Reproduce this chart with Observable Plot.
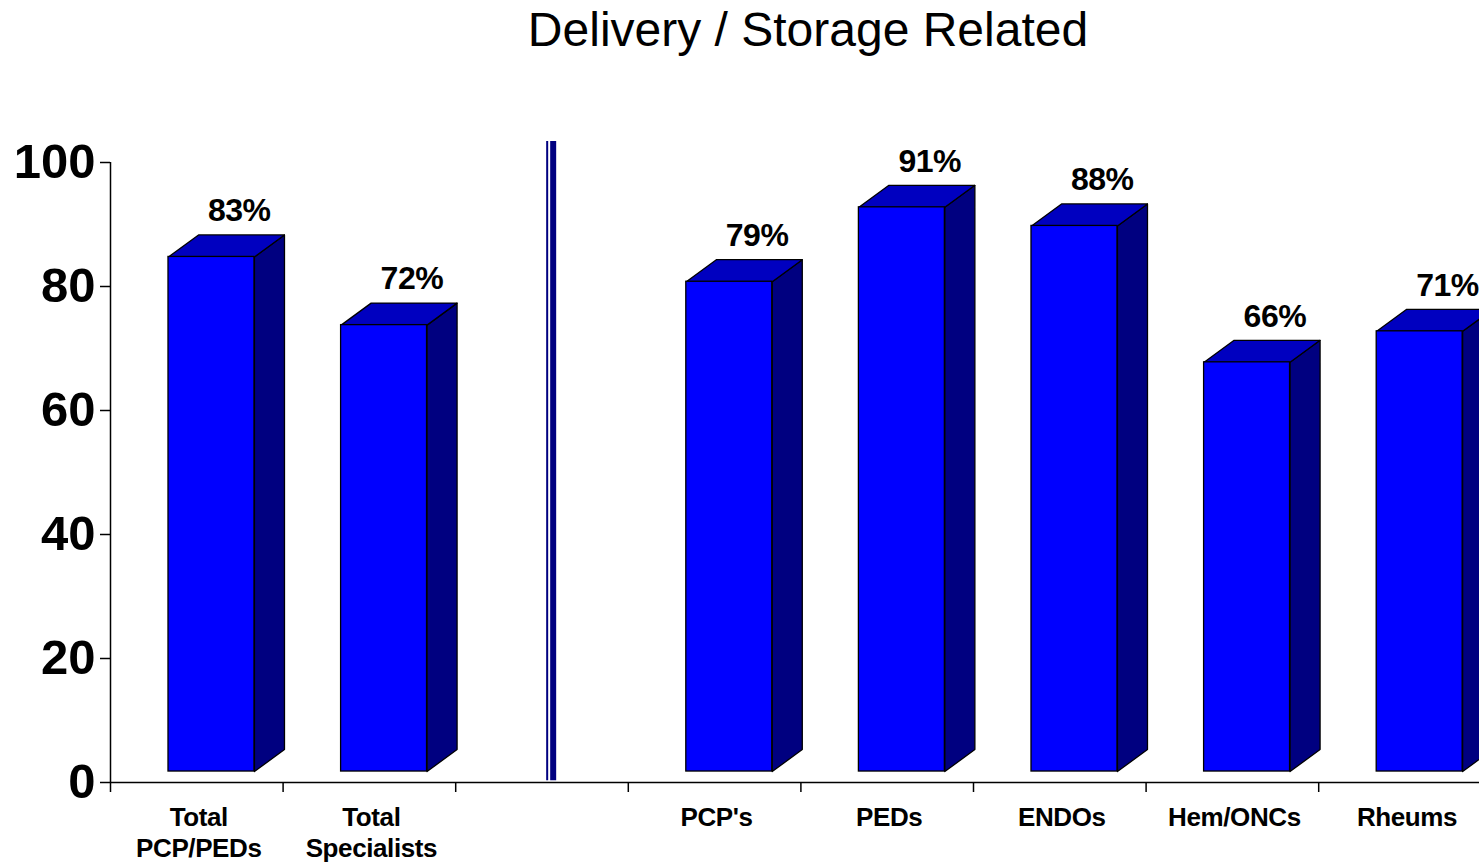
<!DOCTYPE html>
<html>
<head>
<meta charset="utf-8">
<script src="https://cdn.jsdelivr.net/npm/d3@7"></script>
<script src="https://cdn.jsdelivr.net/npm/@observablehq/plot@0.6"></script>
<style>
  html, body { margin: 0; padding: 0; background: #fff; overflow: hidden; }
  #title {
    box-sizing: border-box;
    width: 1479px; height: 100px;
    padding-top: 6px; padding-left: 137px;
    font-family: "Liberation Sans", Arial, sans-serif;
    font-size: 48px; line-height: 48px;
    text-align: center; color: #000;
  }
  #chart svg { font-family: "Liberation Sans", Arial, sans-serif; }
  #chart g[aria-label="y-axis tick label"] text { letter-spacing: 0px; }
  .xlab text { letter-spacing: -0.4px; }
  .plab text { letter-spacing: -0.5px; }
</style>
</head>
<body>
<div id="title">Delivery / Storage Related</div>
<div id="chart"></div>
<script>
// ---- data ----
const categories = ["Total\nPCP/PEDs", "Total\nSpecialists", "", "PCP's", "PEDs", "ENDOs", "Hem/ONCs", "Rheums"];
const values = [83, 72, null, 79, 91, 88, 66, 71];
const yTicks = [0, 20, 40, 60, 80, 100];
const slotBoundaries = [0, 1, 2, 3, 4, 5, 6, 7, 8];
const divider = [{x: 2.53, y1: 0.3, y2: 103.4}];

// ---- 3D bar geometry (slot fractions / value units) ----
const FRONT_L = 0.336, FRONT_R = 0.834, DEPTH_X = 0.174, DEPTH_Y = 3.55, LIFT = 1.77;

const slots = categories.map((c, i) => ({i, c, v: values[i]}));
const bars = slots.filter(d => d.v != null);

const sidePts = [], topPts = [];
bars.forEach(d => {
  const xl = d.i + FRONT_L, xr = d.i + FRONT_R;
  const b = LIFT, t = LIFT + d.v;
  [[xr, b], [xr + DEPTH_X, b + DEPTH_Y], [xr + DEPTH_X, t + DEPTH_Y], [xr, t], [xr, b]]
    .forEach(([x, y]) => sidePts.push({id: d.i, x, y}));
  [[xl, t], [xl + DEPTH_X, t + DEPTH_Y], [xr + DEPTH_X, t + DEPTH_Y], [xr, t], [xl, t]]
    .forEach(([x, y]) => topPts.push({id: d.i, x, y}));
});

const chart = Plot.plot({
  width: 1479,
  height: 764,
  marginTop: 62,
  marginBottom: 82,
  marginLeft: 110,
  marginRight: 0,
  x: {domain: [0, 8], range: [110, 110 + 8 * 172.6]},
  y: {domain: [0, 100], range: [682, 62]},
  marks: [
    Plot.line(sidePts, {x: "x", y: "y", z: "id", fill: "#000080", stroke: "#000", strokeWidth: 1.3}),
    Plot.line(topPts, {x: "x", y: "y", z: "id", fill: "#0000C0", stroke: "#000", strokeWidth: 1.3}),
    Plot.rect(bars, {x1: d => d.i + FRONT_L, x2: d => d.i + FRONT_R, y1: LIFT, y2: d => LIFT + d.v,
      fill: "#0000FF", stroke: "#000", strokeWidth: 1.3}),
    Plot.text(bars, {x: d => d.i + FRONT_L + 0.41, y: d => d.v + LIFT, dy: -46,
      text: d => d.v + "%", fontSize: 32, fontWeight: "bold", fill: "#000", className: "plab"}),
    Plot.ruleX(divider, {x: "x", y1: "y1", y2: "y2", stroke: "#000080", strokeWidth: 2}),
    Plot.ruleX(divider, {x: "x", y1: "y1", y2: "y2", stroke: "#000080", strokeWidth: 6, dx: 6}),
    Plot.ruleX([0], {y1: 0, y2: 100, stroke: "#000", strokeWidth: 1.5}),
    Plot.ruleY([0], {x1: 0, x2: 8, stroke: "#000", strokeWidth: 1.5}),
    Plot.axisY({ticks: yTicks, tickSize: 10, tickPadding: 5, fontSize: 49, fontWeight: "bold",
      tickFormat: d => String(d), label: null, color: "#000", strokeWidth: 1.5}),
    Plot.axisX({ticks: slotBoundaries, tickSize: 10, tickFormat: () => "", label: null, strokeWidth: 1.5}),
    Plot.text(slots, {x: d => d.i + 0.5, y: 0, dx: 2, dy: 21, lineAnchor: "top", text: "c",
      fontSize: 26, fontWeight: "bold", lineHeight: 1.2, fill: "#000", className: "xlab"})
  ]
});
document.getElementById("chart").appendChild(chart);
</script>
</body>
</html>
